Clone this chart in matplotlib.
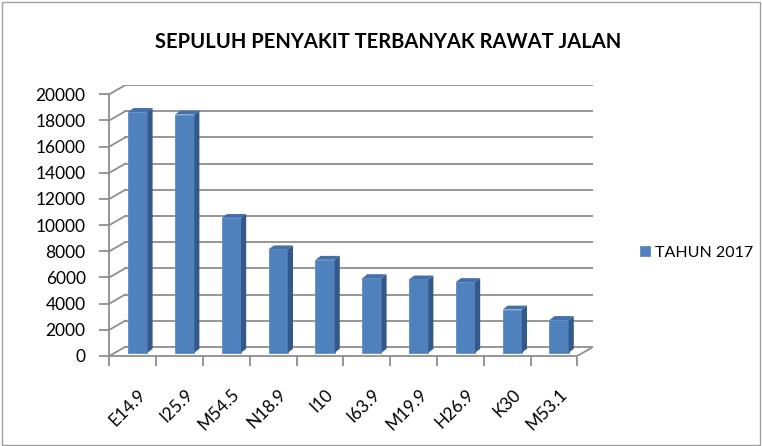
import matplotlib.pyplot as plt
from matplotlib.patches import Polygon, Rectangle
from matplotlib.transforms import ScaledTranslation

plt.rcParams['font.family'] = ['Lato', 'DejaVu Sans']

kode = ['E14.9', 'I25.9', 'M54.5', 'N18.9', 'I10', 'I63.9', 'M19.9', 'H26.9', 'K30', 'M53.1']
jumlah = [18400, 18200, 10300, 7900, 7100, 5700, 5600, 5400, 3300, 2500]
yticks = list(range(0, 20001, 2000))
seri = 'TAHUN 2017'
judul = 'SEPULUH PENYAKIT TERBANYAK RAWAT JALAN'

# pseudo 3d geometry (category units / value units)
DX, DY = 0.34, 700      # floor depth
BX, BY = 0.11, 250      # bar sits inside the floor
BDX, BDY = 0.11, 300    # bar depth
W = 0.41
grid_c = '#8e8e8e'
front_c, side_c, top_c = '#4F81BD', '#34588A', '#4270AA'

fig = plt.figure(figsize=(7.62, 4.46), dpi=100)
n = len(kode)
xmin, xmax = -0.5, n - 0.5 + DX
ymin, ymax = 0, 20000 + DY
# front plane: x -0.5 -> 109px, 9.5 -> 577px ; y 0 -> 356px, 20000 -> 94px
pxc = (577.3 - 109.3) / n
pxv = (356 - 94.3) / 20000
left = 109.3 / 762
bottom = (446 - 356) / 446
ax = fig.add_axes([left, bottom, (xmax - xmin) * pxc / 762, (ymax - ymin) * pxv / 446])
ax.set_xlim(xmin, xmax)
ax.set_ylim(ymin, ymax)
for s in ['top', 'right']:
    ax.spines[s].set_visible(False)
ax.spines['left'].set_bounds(0, 20000)
ax.spines['bottom'].set_bounds(-0.5, n - 0.5)
for s in ['left', 'bottom']:
    ax.spines[s].set_color(grid_c)
    ax.spines[s].set_linewidth(1.3)

# back wall + side wall grid
for v in yticks:
    ax.plot([-0.5 + DX, n - 0.5 + DX], [v + DY, v + DY], color=grid_c, lw=1.3, zorder=1)
    ax.plot([-0.5, -0.5 + DX], [v, v + DY], color=grid_c, lw=1.3, zorder=1)
ax.plot([n - 0.5, n - 0.5 + DX], [0, DY], color=grid_c, lw=1.3, zorder=1)

# bars
xs = [i - W / 2 + BX for i in range(n)]
ax.bar(xs, jumlah, width=W, bottom=BY, align='edge', color=front_c,
       edgecolor='#5d8ccb', linewidth=0.6, zorder=3, label=seri)
for x0, v in zip(xs, jumlah):
    t = BY + v
    side = [(x0 + W, BY), (x0 + W + BDX, BY + BDY), (x0 + W + BDX, t + BDY), (x0 + W, t)]
    top = [(x0, t), (x0 + W, t), (x0 + W + BDX, t + BDY), (x0 + BDX, t + BDY)]
    ax.add_patch(Polygon(side, closed=True, facecolor=side_c, edgecolor='none', zorder=3))
    ax.add_patch(Polygon(top, closed=True, facecolor=top_c, edgecolor='none', zorder=3))

ax.set_yticks(yticks)
ax.set_yticklabels([str(v) for v in yticks], fontsize=12.5)
ax.tick_params(axis='y', length=7, width=1.3, color=grid_c, pad=10)
ax.set_xticks([i - 0.5 for i in range(n + 1)])
ax.set_xticklabels([])
ax.tick_params(axis='x', length=7, width=1.3, color=grid_c)
off = ScaledTranslation(5 / 100, -30 / 100, fig.dpi_scale_trans)
for i, lab in enumerate(kode):
    ax.text(i, 0, lab, transform=ax.get_xaxis_transform() + off, rotation=45,
            ha='right', va='top', rotation_mode='anchor', fontsize=12.5)

fig.text(388 / 762, 1 - 42 / 446, judul, ha='center', va='center',
         fontsize=14.5, fontweight='bold')
fig.legend(loc='center left', bbox_to_anchor=(626 / 762, 1 - 253 / 446), frameon=False,
           fontsize=11.5, handlelength=0.6, handleheight=0.6, handletextpad=0.3)
fig.patches.append(Rectangle((0.002, 0.003), 0.995, 0.993, transform=fig.transFigure,
                             fill=False, edgecolor='#a0a0a0', lw=1))

fig.savefig('out.png', dpi=100)
